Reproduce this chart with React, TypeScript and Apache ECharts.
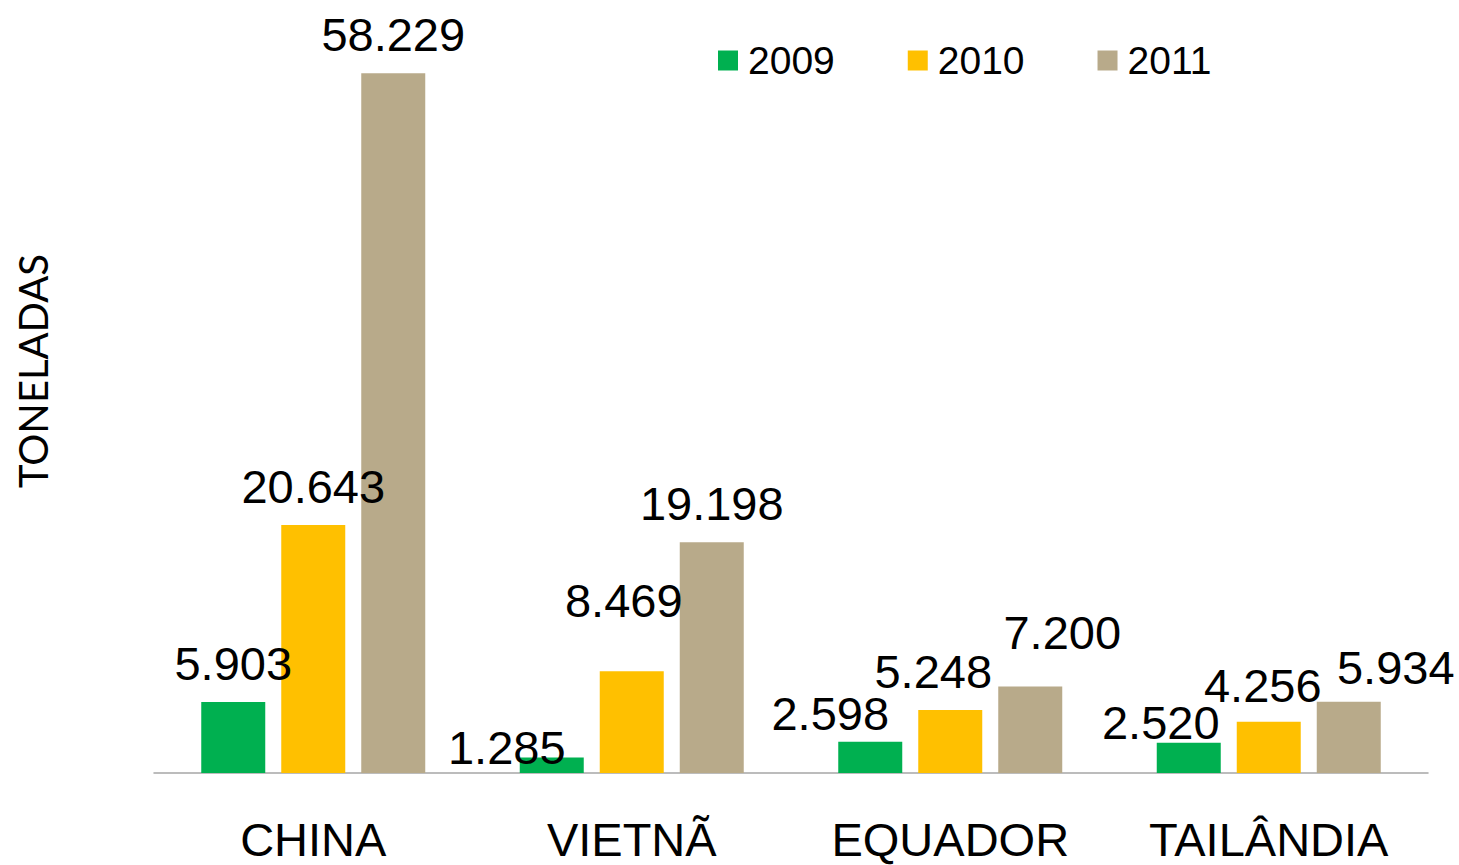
import React, { useEffect, useRef } from "react";
import * as echarts from "echarts";

const categories = ["CHINA", "VIETNÃ", "EQUADOR", "TAILÂNDIA"];
const seriesNames = ["2009", "2010", "2011"];
const values2009 = [5903, 1285, 2598, 2520];
const values2010 = [20643, 8469, 5248, 4256];
const values2011 = [58229, 19198, 7200, 5934];
const seriesColors = ["#00B050", "#FFC000", "#B8AA8A"];
// manual label nudges [dx, dy] as placed in the original
const labelShift2009 = [[0, 0], [-45, 28], [-40, 10], [-28, 18]];
const labelShift2010 = [[0, 0], [-8, -32], [-17, 0], [-6, 2]];
const labelShift2011 = [[0, 0], [0, 0], [32, -15], [47, 4]];

const fmt = (v: number) => String(v).replace(/\B(?=(\d{3})+(?!\d))/g, ".");

export default function App() {
  const ref = useRef<HTMLDivElement>(null);
  useEffect(() => {
    if (!ref.current) return;
    const chart = echarts.init(ref.current, undefined, { renderer: "svg" });
    const allValues = [values2009, values2010, values2011];
    const allShifts = [labelShift2009, labelShift2010, labelShift2011];
    const series = seriesNames.map((name, si) => ({
      name,
      type: "bar",
      barWidth: 64,
      barGap: "25%",
      itemStyle: { color: seriesColors[si] },
      z: 2,
      label: {
        show: true,
        position: "top",
        distance: 15,
        color: "#000",
        fontFamily: "Liberation Sans, Arial, sans-serif",
        fontSize: 47,
        formatter: (p: any) => fmt(p.value),
      },
      data: allValues[si].map((v, ci) => ({
        value: v,
        label: { offset: allShifts[si][ci] },
      })),
    }));
    chart.setOption({
      animation: false,
      backgroundColor: "#fff",
      grid: { left: 154, right: 31, top: 52, bottom: 92 },
      legend: {
        data: seriesNames,
        left: 713,
        top: 36,
        icon: "rect",
        itemWidth: 20,
        itemHeight: 20,
        itemGap: 73,
        textStyle: {
          fontFamily: "Liberation Sans, Arial, sans-serif",
          fontSize: 39,
          color: "#000",
          padding: [0, 0, 0, 5],
        },
      },
      xAxis: {
        type: "category",
        data: categories,
        axisLine: { show: true, lineStyle: { color: "#A6A6A6", width: 1.5 } },
        axisTick: { show: false },
        axisLabel: {
          color: "#000",
          fontFamily: "Liberation Sans, Arial, sans-serif",
          fontSize: 47,
          margin: 43,
        },
      },
      yAxis: {
        type: "value",
        min: 0,
        max: 60000,
        show: false,
        splitLine: { show: false },
      },
      graphic: [
        {
          type: "text",
          x: 33,
          y: 371,
          rotation: Math.PI / 2,
          style: {
            text: "TONELADAS",
            fontFamily: "Lato, sans-serif",
            fontSize: 40,
            fill: "#000",
            textAlign: "center",
            textVerticalAlign: "middle",
          },
        },
      ],
      series,
    });
    return () => chart.dispose();
  }, []);
  return <div ref={ref} style={{ width: 1459, height: 865, position: "absolute", left: 0, top: 0 }} />;
}
